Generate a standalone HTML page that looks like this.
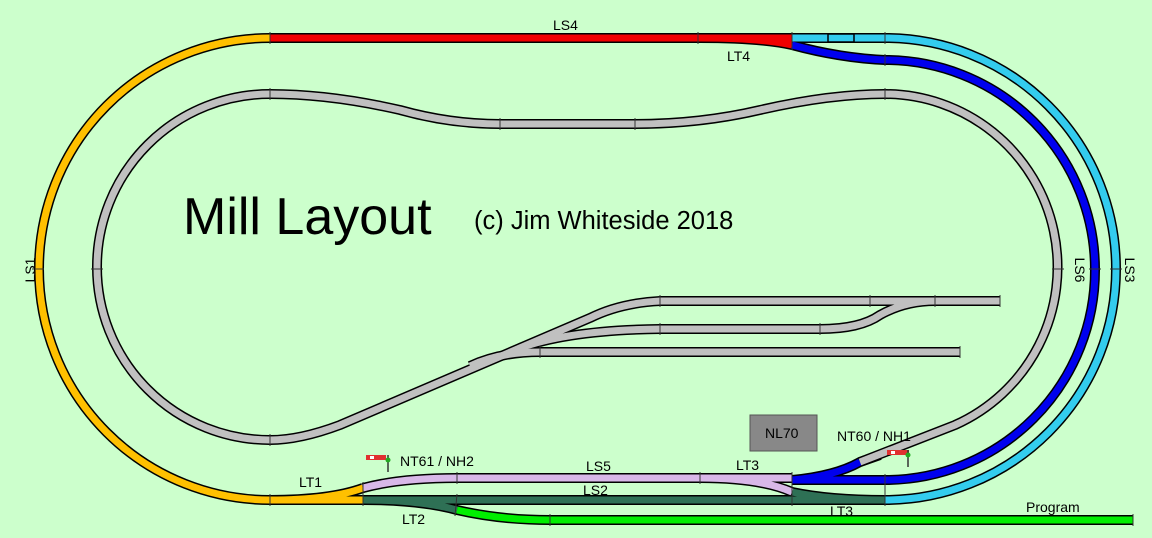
<!DOCTYPE html>
<html><head><meta charset="utf-8"><style>
html,body{margin:0;padding:0;background:#ccffcc;}
svg{display:block;font-family:"Liberation Sans",sans-serif;}
.o{fill:none;stroke:#000;stroke-width:10;}
.i{fill:none;stroke-width:7;}
.t{stroke:#333;stroke-width:1;}
</style></head><body>
<svg width="1152" height="538" viewBox="0 0 1152 538">
<rect width="1152" height="538" fill="#ccffcc"/>

<g>
<path class="o" d="M270,38 A231,231 0 0 0 270,500 L363,500"/>
<path class="o" d="M270,500 Q330,500 363,488"/>
<path class="o" d="M270,38 L885,38 A231,231 0 0 1 885,500 L363,500"/>
<path class="o" d="M700,38 Q760,38 792,45 Q840,58 885,60 A210,210 0 0 1 885,480 L792,480"/>
<path class="o" d="M363,488 Q400,478 457,478 L792,478"/>
<path class="o" d="M700,478 Q760,478 792,492 Q830,500 885,500"/>
<path class="o" d="M792,480 Q835,476 860,462 L880,455"/>
<path class="o" d="M363,500 Q420,500 457,510 Q500,520 550,520 L1133,520"/>
<path class="o" d="M270,94 A173,173 0 1 0 270,440 Q300,440 340,425 L590,318 Q620,303 660,301 L1000,301"/>
<path class="o" d="M270,94 Q330,94 400,110 Q450,124 500,124 L635,124 Q700,124 760,110 Q830,94 885,94 A173,173 0 0 1 955,425 L860,462"/>
<path class="o" d="M470,366 Q500,352 540,352 L960,352"/>
<path class="o" d="M520,348 Q570,330 660,329 L820,329 Q860,329 880,315 Q905,301 935,301"/>
</g>
<g>
<path class="i" stroke="#ffc000" d="M270,38 A231,231 0 0 0 270,500 L363,500"/>
<path class="i" stroke="#ffc000" d="M270,500 Q330,500 363,488"/>
<path class="i" stroke="#f00000" d="M270,38 L792,38"/>
<path class="i" stroke="#f00000" d="M700,38 Q760,38 792,45"/>
<path class="i" stroke="#33ccee" d="M792,38 L885,38 A231,231 0 0 1 885,500"/>
<path class="i" stroke="#0000ee" d="M792,45 Q840,58 885,60 A210,210 0 0 1 885,480 L792,480"/>
<path class="i" stroke="#0000ee" d="M792,480 Q835,476 860,462"/>
<path class="i" stroke="#2e7055" d="M363,500 L885,500"/>
<path class="i" stroke="#2e7055" d="M363,500 Q420,500 457,510"/>
<path class="i" stroke="#2e7055" d="M792,492 Q830,500 885,500"/>
<path class="i" stroke="#d8b8e8" d="M363,488 Q400,478 457,478 L792,478"/>
<path class="i" stroke="#d8b8e8" d="M700,478 Q760,478 792,492"/>
<path class="i" stroke="#00ee00" d="M457,510 Q500,520 550,520 L1133,520"/>
<g stroke="#c0c0c0">
<path class="i" d="M270,94 A173,173 0 1 0 270,440 Q300,440 340,425 L590,318 Q620,303 660,301 L1000,301"/>
<path class="i" d="M270,94 Q330,94 400,110 Q450,124 500,124 L635,124 Q700,124 760,110 Q830,94 885,94 A173,173 0 0 1 955,425 L860,462"/>
<path class="i" d="M470,366 Q500,352 540,352 L960,352"/>
<path class="i" d="M520,348 Q570,330 660,329 L820,329 Q860,329 880,315 Q905,301 935,301"/>
</g>
<rect x="828" y="34" width="26" height="8" fill="none" stroke="#000" stroke-width="1.5"/>
</g>
<g class="t">
<line class="t" x1="270" y1="32" x2="270" y2="44"/><line class="t" x1="698" y1="32" x2="698" y2="44"/>
<line class="t" x1="792" y1="32" x2="792" y2="50"/><line class="t" x1="885" y1="32" x2="885" y2="44"/>
<line class="t" x1="885" y1="54" x2="885" y2="66"/><line class="t" x1="270" y1="88" x2="270" y2="100"/>
<line class="t" x1="500" y1="118" x2="500" y2="130"/><line class="t" x1="635" y1="118" x2="635" y2="130"/>
<line class="t" x1="885" y1="88" x2="885" y2="100"/><line class="t" x1="32" y1="269" x2="44" y2="269"/>
<line class="t" x1="91" y1="269" x2="103" y2="269"/><line class="t" x1="1052" y1="269" x2="1064" y2="269"/>
<line class="t" x1="1089" y1="269" x2="1101" y2="269"/><line class="t" x1="1110" y1="269" x2="1122" y2="269"/>
<line class="t" x1="270" y1="434" x2="270" y2="446"/><line class="t" x1="270" y1="494" x2="270" y2="506"/>
<line class="t" x1="363" y1="482" x2="363" y2="506"/><line class="t" x1="457" y1="472" x2="457" y2="484"/>
<line class="t" x1="457" y1="494" x2="455" y2="516"/><line class="t" x1="550" y1="514" x2="550" y2="526"/>
<line class="t" x1="700" y1="472" x2="700" y2="484"/><line class="t" x1="792" y1="472" x2="792" y2="506"/>
<line class="t" x1="885" y1="474" x2="885" y2="506"/><line class="t" x1="1133" y1="514" x2="1133" y2="526"/>
<line class="t" x1="660" y1="295" x2="660" y2="307"/><line class="t" x1="870" y1="295" x2="870" y2="307"/>
<line class="t" x1="935" y1="295" x2="935" y2="307"/><line class="t" x1="1000" y1="295" x2="1000" y2="307"/>
<line class="t" x1="960" y1="346" x2="960" y2="358"/><line class="t" x1="540" y1="346" x2="540" y2="358"/>
<line class="t" x1="660" y1="323" x2="660" y2="335"/><line class="t" x1="820" y1="323" x2="820" y2="335"/>
</g>

<g>
<rect x="366" y="455" width="20" height="5" fill="#e03030"/><rect x="370" y="456" width="4" height="3" fill="#fff"/>
<line x1="388" y1="455" x2="388" y2="472" stroke="#333" stroke-width="1.5"/><circle cx="388" cy="460" r="2.5" fill="#2a2"/>
</g>
<g>
<rect x="887" y="450" width="22" height="5" fill="#e03030"/><rect x="891" y="451" width="4" height="3" fill="#fff"/>
<line x1="908" y1="450" x2="908" y2="467" stroke="#333" stroke-width="1.5"/><circle cx="908" cy="455" r="2.5" fill="#2a2"/>
</g>
<rect x="750" y="415" width="67" height="36" fill="#888" stroke="#555"/>

<g fill="#000" font-size="14">
<text x="183" y="234" font-size="52">Mill Layout</text>
<text x="474" y="229" font-size="25.5">(c) Jim Whiteside 2018</text>
<text x="553" y="30">LS4</text>
<text x="727" y="61">LT4</text>
<text x="30" y="270" transform="rotate(-90 30 270)" text-anchor="middle" dy="5">LS1</text>
<text x="1080" y="270" transform="rotate(90 1080 270)" text-anchor="middle" dy="5">LS6</text>
<text x="1130" y="270" transform="rotate(90 1130 270)" text-anchor="middle" dy="5">LS3</text>
<text x="765" y="438">NL70</text>
<text x="837" y="441">NT60 / NH1</text>
<text x="400" y="466">NT61 / NH2</text>
<text x="586" y="471">LS5</text>
<text x="736" y="470">LT3</text>
<text x="299" y="487">LT1</text>
<text x="583" y="495">LS2</text>
<text x="402" y="524">LT2</text>
<text x="830" y="516">LT3</text>
<text x="1026" y="512">Program</text>
</g>
</svg>
</body></html>
